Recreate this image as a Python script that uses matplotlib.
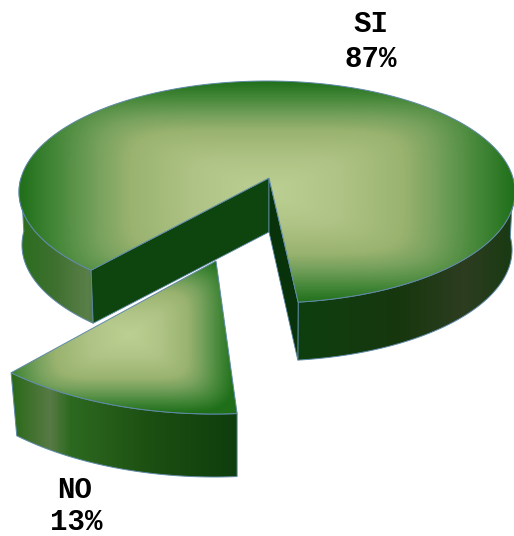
import numpy as np
import matplotlib
matplotlib.use("Agg")
import matplotlib.pyplot as plt
from matplotlib.colors import LinearSegmentedColormap
from matplotlib.patches import Polygon

labels = ["SI", "NO"]
values = [87, 13]

W, H = 514, 536
fig = plt.figure(figsize=(W / 100, H / 100), dpi=100)
ax = fig.add_axes([0, 0, 1, 1])
ax.axis("off")

EDGE = "#5f8aa8"
top_cmap = LinearSegmentedColormap.from_list("top", [
    (0.0, "#bdd093"), (0.3, "#aec385"), (0.55, "#9ab36f"),
    (0.68, "#78a25e"), (0.85, "#46883a"), (1.0, "#1f6f1a")])

yy, xx = np.mgrid[0:H, 0:W] + 0.5


def soft_rect(u, v, p=6):
    """Rounded-rectangle distance used for the path-style gradient."""
    return (np.abs(u) ** p + np.abs(v) ** p) ** (1 / p)


def rim(center, radii, apex, phi_deg):
    """Point on the ellipse along a ray from the (off-centre) apex; phi from 'down' towards right."""
    phi = np.radians(np.asarray(phi_deg, float))
    ax_n = (apex[0] - center[0]) / radii[0]
    ay_n = (apex[1] - center[1]) / radii[1]
    dx, dy = np.sin(phi), np.cos(phi)
    b = ax_n * dx + ay_n * dy
    c = ax_n ** 2 + ay_n ** 2 - 1
    s = -b + np.sqrt(b ** 2 - c)
    return center[0] + radii[0] * (ax_n + s * dx), center[1] + radii[1] * (ay_n + s * dy)


def clip_image(data, cmap, poly, z):
    patch = Polygon(poly, closed=True, transform=ax.transData, fc="none", ec="none")
    ax.add_patch(patch)
    im = ax.imshow(data, cmap=cmap, vmin=0, vmax=1, extent=(0, W, H, 0),
                   interpolation="bilinear", zorder=z, aspect="auto")
    im.set_clip_path(patch)
    patch.set_zorder(z)


def wall(x, y, center, depth, shrink, stops, z):
    xb = center[0] + (x - center[0]) * shrink
    yb = y + depth
    poly = np.r_[np.c_[x, y], np.c_[xb, yb][::-1]]
    pos = [s[0] for s in stops]
    lo, hi = pos[0], pos[-1]
    cm = LinearSegmentedColormap.from_list("w", [((p - lo) / (hi - lo), c) for p, c in stops])
    clip_image(np.clip((xx - lo) / (hi - lo), 0, 1), cm, poly, z)
    ax.add_patch(Polygon(poly, closed=True, fc="none", ec=EDGE, lw=0.7, zorder=z + 0.1))


def flat(poly, color, z):
    ax.add_patch(Polygon(poly, closed=True, fc=color, ec=EDGE, lw=0.6, zorder=z))


share = [v / sum(values) * 360 for v in values]

# ---------- main slice ----------
c1, r1, a1 = (267, 192), (248, 111), (269, 178)
shrink1 = 0.988
depth_right, depth_left = 58, 53
phi0 = 6
phis = np.linspace(phi0, phi0 + share[0], 500)
x1, y1 = rim(c1, r1, a1, phis)

m = phis <= 90
wall(x1[m], y1[m], c1, depth_right, shrink1,
     [(298, "#0f3f0e"), (400, "#17370f"), (465, "#2d3d20"), (514, "#183a12")], 1)
m = phis >= 270
wall(x1[m], y1[m], c1, depth_left, shrink1,
     [(20, "#2a6e1e"), (55, "#3f7030"), (88, "#5a7f48"), (96, "#50783f")], 1)

apex_b = (a1[0], a1[1] + 54)
xb_l = c1[0] + (x1[-1] - c1[0]) * shrink1
xb_r = c1[0] + (x1[0] - c1[0]) * shrink1
flat([a1, (x1[-1], y1[-1]), (xb_l, y1[-1] + depth_left), apex_b], "#0e450e", 2)
flat([a1, (x1[0], y1[0]), (xb_r, y1[0] + depth_right), apex_b], "#08330a", 2.2)

t1 = soft_rect((xx - 267) / 248, (yy - 192) / 111)
poly1 = np.r_[[a1], np.c_[x1, y1]]
clip_image(np.clip(t1, 0, 1), top_cmap, poly1, 3)
ax.add_patch(Polygon(poly1, closed=True, fc="none", ec=EDGE, lw=0.7, zorder=3.1))

# ---------- detached slice ----------
c2, r2, a2 = (214, 266), (293, 148), (216, 261)
depth2, shrink2 = 63, 0.975
phis2 = np.linspace(4, 4 - share[1], 120)
x2, y2 = rim(c2, r2, a2, phis2)
wall(x2, y2, (237, 0), depth2, shrink2,
     [(13, "#2c6a1a"), (50, "#587a45"), (70, "#2d6a20"), (150, "#1c4f12"), (237, "#0f3e0d")], 4)

dx = xx - 130
t2 = soft_rect(np.where(dx < 0, dx / 135, dx / 105), (yy - 335) / 78)
poly2 = np.r_[[a2], np.c_[x2, y2]]
clip_image(np.clip(t2, 0, 1), top_cmap, poly2, 5)
ax.add_patch(Polygon(poly2, closed=True, fc="none", ec=EDGE, lw=0.7, zorder=5.1))

# ---------- labels ----------
font = dict(family="Liberation Mono", fontsize=21, fontweight="bold", color="black",
            ha="center", va="center", zorder=10)
ax.text(371, 24, labels[0], **font)
ax.text(371, 59, f"{values[0]}%", **font)
ax.text(75, 490, labels[1], **font)
ax.text(76, 522, f"{values[1]}%", **font)

ax.set_xlim(0, W)
ax.set_ylim(H, 0)
fig.savefig("out.png", dpi=100, facecolor="white")
